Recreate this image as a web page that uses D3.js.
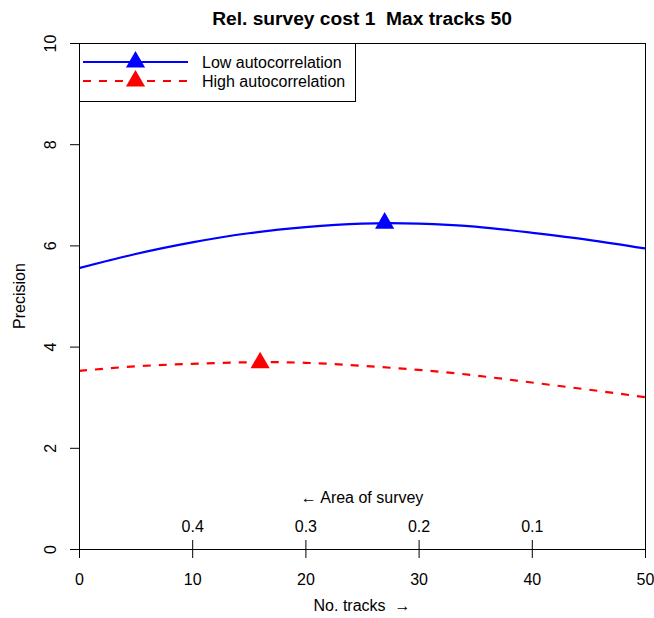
<!DOCTYPE html>
<html>
<head>
<meta charset="utf-8">
<script src="https://cdn.jsdelivr.net/npm/d3@7"></script>
<style>
  body { margin: 0; background: #fff; }
  svg { display: block; font-family: "Liberation Sans", Arial, Helvetica, sans-serif; }
  svg text { white-space: pre; }
</style>
</head>
<body>
<svg id="chart" width="654" height="618"></svg>
<script>
// values
const tracks = [0, 5, 10, 15, 20, 25, 30, 35, 40, 45, 50];
const lowPrecision = [5.55, 5.83, 6.06, 6.24, 6.36, 6.43, 6.43, 6.37, 6.25, 6.11, 5.94];
const highPrecision = [3.52, 3.61, 3.66, 3.69, 3.68, 3.62, 3.54, 3.43, 3.29, 3.15, 3.00];
const bestTracks = [27, 16];
const bestPrecision = [6.44, 3.68];
const seriesNames = ['Low autocorrelation', 'High autocorrelation'];
const trackTicks = [0, 10, 20, 30, 40, 50];
const precisionTicks = [0, 2, 4, 6, 8, 10];
const areaTicks = [10, 20, 30, 40];
const areaLabels = ['0.4', '0.3', '0.2', '0.1'];

const COLORS = ['#0000ff', '#ff0000'];
const DASHES = [null, '8,8'];
const PLOT = { left: 79, right: 645, top: 43, bottom: 549 };
const TICK = 9;

const svg = d3.select('#chart');

const scaleX = d3.scaleLinear().domain([0, 50]).range([PLOT.left, PLOT.right]);
const scaleY = d3.scaleLinear().domain([0, 10]).range([PLOT.bottom, PLOT.top]);

// plot box
svg.append('rect')
  .attr('x', PLOT.left + 0.5).attr('y', PLOT.top + 0.5)
  .attr('width', PLOT.right - PLOT.left).attr('height', PLOT.bottom - PLOT.top)
  .attr('fill', 'none').attr('stroke', '#000').attr('stroke-width', 1);

// curves
const series = [lowPrecision, highPrecision];
const line = d3.line()
  .x(d => scaleX(d[0]))
  .y(d => scaleY(d[1]))
  .curve(d3.curveNatural);

series.forEach((values, i) => {
  svg.append('path')
    .datum(tracks.map((t, j) => [t, values[j]]))
    .attr('d', line)
    .attr('fill', 'none')
    .attr('stroke', COLORS[i])
    .attr('stroke-width', 2.2)
    .attr('stroke-dasharray', DASHES[i]);
});

const triangle = d3.symbol(d3.symbolTriangle, 159);
svg.append('g').selectAll('path')
  .data(bestTracks)
  .join('path')
  .attr('d', triangle)
  .attr('fill', (d, i) => COLORS[i])
  .attr('transform', (d, i) => `translate(${scaleX(d)},${scaleY(bestPrecision[i])})`);

// x axis
const axisX = svg.append('g')
  .attr('transform', `translate(0,${PLOT.bottom})`)
  .call(d3.axisBottom(scaleX).tickValues(trackTicks).tickSize(TICK).tickSizeOuter(0).tickPadding(16));
axisX.selectAll('text').attr('font-size', 16).attr('font-family', null).attr('fill', '#000');

// area axis above the x axis
const axisArea = svg.append('g')
  .attr('transform', `translate(0,${PLOT.bottom})`)
  .call(d3.axisTop(scaleX).tickValues(areaTicks).tickSize(TICK).tickPadding(8)
    .tickFormat((d, i) => areaLabels[i]));
axisArea.select('.domain').remove();
axisArea.selectAll('text').attr('font-size', 16).attr('font-family', null).attr('fill', '#000');

// y axis, labels parallel to the axis
const axisY = svg.append('g')
  .attr('transform', `translate(${PLOT.left},0)`)
  .call(d3.axisLeft(scaleY).tickValues(precisionTicks).tickSize(TICK).tickSizeOuter(0));
axisY.selectAll('text')
  .attr('font-size', 16).attr('font-family', null).attr('fill', '#000')
  .attr('x', null).attr('dy', null)
  .attr('text-anchor', 'middle')
  .attr('transform', 'translate(-23,0) rotate(-90)');

axisX.selectAll('line, path').attr('stroke', '#000');
axisY.selectAll('line, path').attr('stroke', '#000');
axisArea.selectAll('line').attr('stroke', '#000');

const midX = (PLOT.left + PLOT.right) / 2;

svg.append('text')
  .attr('x', midX).attr('y', 25)
  .attr('text-anchor', 'middle')
  .attr('font-size', 19.2).attr('font-weight', 'bold')
  .text('Rel. survey cost 1  Max tracks 50');

svg.append('text')
  .attr('x', midX).attr('y', 611)
  .attr('text-anchor', 'middle')
  .attr('font-size', 16)
  .text('No. tracks  \u2192');

svg.append('text')
  .attr('x', midX).attr('y', 503)
  .attr('text-anchor', 'middle')
  .attr('font-size', 16)
  .text('\u2190 Area of survey');

svg.append('text')
  .attr('transform', `translate(25,${(PLOT.top + PLOT.bottom) / 2}) rotate(-90)`)
  .attr('text-anchor', 'middle')
  .attr('font-size', 16)
  .text('Precision');

// legend
const legend = svg.append('g');
legend.append('rect')
  .attr('x', PLOT.left + 0.5).attr('y', PLOT.top + 0.5)
  .attr('width', 276).attr('height', 58)
  .attr('fill', '#fff').attr('stroke', '#000');

seriesNames.forEach((name, i) => {
  const y = 62 + i * 19;
  legend.append('line')
    .attr('x1', 83).attr('x2', 188).attr('y1', y).attr('y2', y)
    .attr('stroke', COLORS[i]).attr('stroke-width', 2.2)
    .attr('stroke-dasharray', DASHES[i]);
  legend.append('path')
    .attr('d', triangle)
    .attr('fill', COLORS[i])
    .attr('transform', `translate(135.5,${y})`);
  legend.append('text')
    .attr('x', 202).attr('y', y + 5.7)
    .attr('font-size', 16)
    .text(name);
});
</script>
</body>
</html>
